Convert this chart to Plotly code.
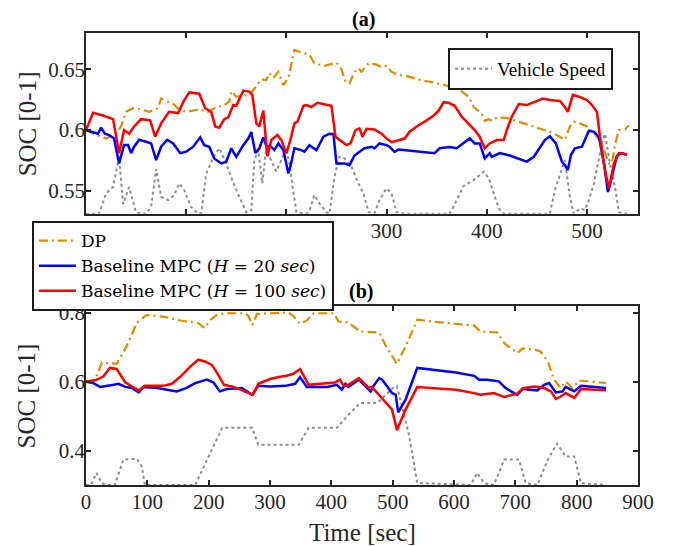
import plotly.graph_objects as go

# ---- panel (a) ----
a_dp_t = [0, 10, 20, 30, 35, 40, 47, 55, 63, 72, 75, 82, 88, 93, 100, 113, 122, 130, 137, 143, 145, 150, 163, 168, 175,
          180, 183, 187, 192, 197, 202, 208, 215, 223, 228, 238, 250, 255, 259, 263, 268, 272, 275, 282, 290, 295, 300,
          305, 310, 322, 335, 348, 363, 373, 382, 387, 395, 398, 402, 405, 410, 420, 437, 453, 463, 472, 478, 483, 487,
          493, 500, 508, 515, 522, 525, 528, 532, 538, 542]
a_dp = [0.600, 0.596, 0.593, 0.597, 0.603, 0.615, 0.618, 0.617, 0.615, 0.618, 0.626, 0.623, 0.621, 0.617, 0.615, 0.617,
        0.615, 0.619, 0.620, 0.6235, 0.632, 0.6275, 0.629, 0.634, 0.642, 0.641, 0.647, 0.643, 0.648, 0.637, 0.643, 0.666,
        0.664, 0.662, 0.655, 0.653, 0.6556, 0.650, 0.640, 0.6385, 0.648, 0.651, 0.648, 0.655, 0.654, 0.652, 0.653, 0.648,
        0.646, 0.644, 0.641, 0.639, 0.636, 0.633, 0.6275, 0.619, 0.6137, 0.6077, 0.609, 0.6077, 0.6104, 0.610, 0.6055,
        0.6014, 0.5986, 0.595, 0.5918, 0.603, 0.6069, 0.6055, 0.603, 0.597, 0.588, 0.5725, 0.5725, 0.588, 0.600, 0.6005,
        0.604]

a_h20_t = [0, 7, 12, 15, 19, 23, 28, 33, 38, 42, 45, 48, 53, 60, 65, 70, 75, 81, 87, 94, 100, 107, 114, 118, 123, 128,
           135, 140, 145, 150, 157, 162, 165, 169, 173, 177, 182, 183, 188, 192, 197, 202, 204, 208, 215, 218, 223, 230,
           237, 243, 247, 250, 258, 263, 268, 273, 278, 285, 288, 293, 300, 303, 308, 312, 322, 332, 348, 353, 363, 370,
           377, 383, 388, 393, 398, 403, 405, 413, 423, 432, 440, 447, 453, 458, 463, 469, 475, 478, 481, 484, 488, 495,
           498, 502, 507, 512, 517, 521, 525, 530, 535, 540]
a_h20 = [0.600, 0.5986, 0.597, 0.602, 0.597, 0.5959, 0.593, 0.5725, 0.5876, 0.5876, 0.581, 0.5863, 0.592, 0.5904, 0.589,
         0.5753, 0.5863, 0.592, 0.589, 0.581, 0.5822, 0.5863, 0.594, 0.5876, 0.5863, 0.5766, 0.5725, 0.5739, 0.585, 0.578,
         0.5876, 0.593, 0.5985, 0.581, 0.585, 0.594, 0.582, 0.5876, 0.5835, 0.589, 0.5835, 0.5643, 0.5698, 0.585, 0.5835,
         0.5822, 0.5876, 0.5835, 0.5945, 0.597, 0.5967, 0.5725, 0.5725, 0.5711, 0.579, 0.5822, 0.585, 0.5863, 0.585,
         0.589, 0.5876, 0.5863, 0.582, 0.584, 0.583, 0.582, 0.581, 0.585, 0.586, 0.585, 0.589, 0.5931, 0.589, 0.589,
         0.5766, 0.581, 0.578, 0.581, 0.579, 0.5766, 0.574, 0.578, 0.586, 0.5918, 0.595, 0.589, 0.574, 0.5711, 0.567,
         0.5794, 0.585, 0.5863, 0.592, 0.5995, 0.5986, 0.5945, 0.5725, 0.549, 0.5615, 0.579, 0.581, 0.5794]

a_h100_t = [0, 7, 17, 23, 27, 33, 38, 43, 48, 55, 64, 69, 75, 83, 92, 97, 103, 113, 119, 125, 129, 133, 138, 142, 147,
            150, 157, 163, 166, 170, 173, 177, 181, 185, 191, 195, 200, 204, 208, 211, 217, 220, 225, 231, 237, 245, 249,
            253, 260, 264, 269, 273, 276, 280, 288, 295, 300, 305, 312, 318, 323, 332, 340, 347, 352, 357, 362, 368, 375,
            382, 388, 393, 398, 403, 410, 417, 420, 425, 432, 440, 456, 463, 473, 478, 481, 486, 492, 500, 505, 510, 513,
            518, 522, 527, 532, 540]
a_h100 = [0.600, 0.6143, 0.612, 0.6105, 0.609, 0.581, 0.600, 0.597, 0.603, 0.609, 0.608, 0.5945, 0.6055, 0.615, 0.614,
          0.623, 0.631, 0.630, 0.618, 0.615, 0.603, 0.602, 0.609, 0.6105, 0.6206, 0.620, 0.6325, 0.6317, 0.629, 0.6055,
          0.603, 0.616, 0.5785, 0.5918, 0.596, 0.5918, 0.5808, 0.5918, 0.6055, 0.6069, 0.620, 0.6206, 0.619, 0.6225,
          0.6214, 0.620, 0.5945, 0.5918, 0.5876, 0.589, 0.600, 0.6014, 0.5945, 0.601, 0.6005, 0.597, 0.593, 0.590, 0.5918,
          0.593, 0.5986, 0.604, 0.608, 0.612, 0.616, 0.623, 0.6225, 0.620, 0.611, 0.6055, 0.600, 0.5945, 0.585, 0.589,
          0.5918, 0.592, 0.600, 0.611, 0.6215, 0.6206, 0.626, 0.6248, 0.624, 0.619, 0.615, 0.629, 0.6275, 0.6248, 0.6206,
          0.615, 0.5945, 0.567, 0.552, 0.5725, 0.581, 0.580]

a_spd_t = [0, 13, 20, 27, 33, 37, 43, 50, 60, 65, 70, 75, 82, 88, 93, 98, 105, 112, 115, 120, 128, 133, 140, 145, 153,
           160, 165, 168, 172, 176, 180, 183, 190, 195, 200, 203, 207, 210, 220, 223, 228, 233, 240, 243, 248, 253, 258,
           265, 272, 277, 282, 288, 293, 300, 305, 310, 318, 363, 368, 377, 387, 397, 402, 407, 412, 417, 463, 468, 478,
           483, 487, 493, 498, 502, 507, 515, 518, 523, 528, 532, 540]
a_spd = [0.531, 0.531, 0.5478, 0.553, 0.578, 0.539, 0.553, 0.532, 0.531, 0.5365, 0.568, 0.545, 0.5423, 0.5464, 0.556,
         0.5505, 0.5365, 0.531, 0.5316, 0.564, 0.579, 0.585, 0.5725, 0.561, 0.545, 0.5323, 0.5337, 0.5752, 0.5835, 0.556,
         0.586, 0.578, 0.566, 0.5753, 0.585, 0.5725, 0.5505, 0.5323, 0.531, 0.5337, 0.5464, 0.5396, 0.5323, 0.531,
         0.5615, 0.578, 0.5766, 0.5698, 0.556, 0.5478, 0.5323, 0.5316, 0.5423, 0.552, 0.5478, 0.5323, 0.531, 0.531,
         0.539, 0.554, 0.5588, 0.5657, 0.5602, 0.5478, 0.5355, 0.531, 0.531, 0.5505, 0.5753, 0.545, 0.531, 0.5355,
         0.5341, 0.5423, 0.556, 0.5888, 0.597, 0.5725, 0.5533, 0.5323, 0.531]

# ---- panel (b) ----
b_dp_t = [0, 15, 26, 50, 66, 83, 99, 126, 154, 183, 193, 203, 213, 230, 260, 265, 271, 279, 300, 330, 338, 349, 360, 371,
          404, 412, 428, 447, 478, 488, 498, 507, 521, 540, 564, 603, 633, 643, 671, 682, 703, 712, 731, 741, 753, 763,
          774, 782, 793, 804, 823, 848]
b_dp = [0.600, 0.606, 0.656, 0.652, 0.702, 0.772, 0.794, 0.789, 0.778, 0.770, 0.756, 0.780, 0.794, 0.799, 0.799, 0.791,
        0.765, 0.797, 0.799, 0.801, 0.791, 0.768, 0.778, 0.799, 0.799, 0.775, 0.772, 0.746, 0.743, 0.707, 0.678, 0.652,
        0.702, 0.780, 0.775, 0.768, 0.763, 0.746, 0.743, 0.712, 0.683, 0.697, 0.694, 0.688, 0.659, 0.606, 0.582, 0.601,
        0.582, 0.603, 0.601, 0.596]

b_h20_t = [0, 12, 23, 34, 45, 53, 64, 75, 86, 94, 116, 148, 164, 178, 197, 208, 218, 230, 254, 271, 281, 300, 325, 341,
           349, 360, 393, 409, 417, 423, 428, 445, 464, 469, 478, 483, 499, 505, 509, 521, 540, 603, 633, 641, 654, 673,
           684, 698, 703, 712, 736, 747, 755, 766, 777, 782, 796, 807, 829, 848]
b_h20 = [0.600, 0.596, 0.585, 0.587, 0.591, 0.594, 0.585, 0.582, 0.569, 0.585, 0.582, 0.572, 0.582, 0.596, 0.606, 0.598,
         0.572, 0.579, 0.582, 0.562, 0.588, 0.586, 0.588, 0.594, 0.6135, 0.5845, 0.5845, 0.591, 0.577, 0.594, 0.585,
         0.606, 0.572, 0.588, 0.6106, 0.606, 0.567, 0.562, 0.511, 0.548, 0.640, 0.627, 0.617, 0.606, 0.606, 0.601, 0.582,
         0.567, 0.562, 0.579, 0.575, 0.591, 0.596, 0.569, 0.572, 0.585, 0.572, 0.588, 0.585, 0.582]

b_h100_t = [0, 15, 28, 39, 50, 64, 75, 86, 96, 126, 140, 154, 170, 183, 194, 205, 214, 225, 241, 257, 272, 281, 300, 314,
            327, 338, 349, 363, 406, 414, 420, 425, 445, 461, 466, 480, 490, 499, 507, 521, 540, 603, 633, 643, 665, 682,
            695, 703, 712, 731, 747, 758, 766, 774, 782, 796, 807, 829, 848]
b_h100 = [0.600, 0.604, 0.615, 0.640, 0.637, 0.598, 0.586, 0.575, 0.588, 0.588, 0.594, 0.615, 0.644, 0.664, 0.659, 0.649,
          0.625, 0.591, 0.585, 0.572, 0.562, 0.594, 0.608, 0.6135, 0.6174, 0.623, 0.637, 0.591, 0.598, 0.606, 0.588,
          0.588, 0.6106, 0.582, 0.585, 0.557, 0.538, 0.519, 0.459, 0.519, 0.5845, 0.577, 0.567, 0.562, 0.567, 0.5555,
          0.562, 0.565, 0.5816, 0.586, 0.5816, 0.572, 0.550, 0.557, 0.567, 0.553, 0.579, 0.577, 0.575]

b_spd_t = [0, 8, 17, 26, 34, 47, 61, 83, 91, 96, 178, 192, 222, 271, 281, 347, 363, 409, 428, 447, 475, 502, 507, 526,
           540, 627, 638, 649, 665, 682, 706, 717, 736, 753, 768, 782, 796, 807, 848]
b_spd = [0.30, 0.30, 0.335, 0.305, 0.30, 0.30, 0.374, 0.376, 0.354, 0.30, 0.30, 0.354, 0.466, 0.466, 0.417, 0.417, 0.466,
         0.466, 0.504, 0.538, 0.538, 0.585, 0.587, 0.451, 0.306, 0.30, 0.335, 0.305, 0.30, 0.374, 0.374, 0.305, 0.30,
         0.374, 0.42, 0.383, 0.383, 0.305, 0.30]

# top panel: labels under the legend box are hidden in the original
a_ticks = [0, 100, 200, 300, 400, 500]
a_ticktext = ["", "", "", "300", "400", "500"]

FONT = "Liberation Serif"
LEGFONT = "DejaVu Serif"
AX = "#262626"
ORANGE = "#E08A00"
DPDASH = "9px,4px,2px,4px"
GRAY = "#8c8c8c"

fig = go.Figure()

# panel (a)
fig.add_trace(go.Scatter(x=a_spd_t, y=a_spd, mode="lines", name="Vehicle Speed", legend="legend2",
                         line=dict(color=GRAY, width=2, dash="dot"), xaxis="x", yaxis="y"))
fig.add_trace(go.Scatter(x=a_dp_t, y=a_dp, mode="lines", name="DP",
                         line=dict(color=ORANGE, width=2.2, dash=DPDASH), xaxis="x", yaxis="y"))
fig.add_trace(go.Scatter(x=a_h20_t, y=a_h20, mode="lines", name="Baseline MPC (<i>H</i> = 20 <i>sec</i>)",
                         line=dict(color="#0000ff", width=2.5), xaxis="x", yaxis="y"))
fig.add_trace(go.Scatter(x=a_h100_t, y=a_h100, mode="lines", name="Baseline MPC (<i>H</i> = 100 <i>sec</i>)",
                         line=dict(color="#ff0000", width=2.5), xaxis="x", yaxis="y"))

# panel (b)
fig.add_trace(go.Scatter(x=b_spd_t, y=b_spd, mode="lines", showlegend=False,
                         line=dict(color=GRAY, width=2, dash="dot"), xaxis="x2", yaxis="y2"))
fig.add_trace(go.Scatter(x=b_dp_t, y=b_dp, mode="lines", showlegend=False,
                         line=dict(color=ORANGE, width=2.2, dash=DPDASH), xaxis="x2", yaxis="y2"))
fig.add_trace(go.Scatter(x=b_h20_t, y=b_h20, mode="lines", showlegend=False,
                         line=dict(color="#0000ff", width=2.5), xaxis="x2", yaxis="y2"))
fig.add_trace(go.Scatter(x=b_h100_t, y=b_h100, mode="lines", showlegend=False,
                         line=dict(color="#ff0000", width=2.5), xaxis="x2", yaxis="y2"))

axis_common = dict(showline=True, mirror="ticks", linecolor=AX, linewidth=1.6, ticks="inside", ticklen=5,
                   tickwidth=1.6, tickcolor=AX, showgrid=False, zeroline=False,
                   tickfont=dict(family=FONT, size=21, color=AX))

# the page body adds an 8px offset, so the figure is 8px smaller than the window
fig.update_layout(
    width=670, height=538,
    margin=dict(l=78, r=40, t=25, b=61, autoexpand=False),
    paper_bgcolor="white", plot_bgcolor="white",
    font=dict(family=FONT, color="black"),
    xaxis=dict(domain=[0, 1], range=[0, 551], tickvals=a_ticks, ticktext=a_ticktext, anchor="y",
               ticklabelstandoff=-3, **axis_common),
    yaxis=dict(domain=[0.6, 1], range=[0.531, 0.68], tickvals=[0.55, 0.6, 0.65], anchor="x",
               ticklabelstandoff=-5, **axis_common),
    xaxis2=dict(domain=[0, 1], range=[0, 900], dtick=100, anchor="y2", ticklabelstandoff=-3, **axis_common),
    yaxis2=dict(domain=[0, 0.396], range=[0.30, 0.82], tickvals=[0.4, 0.6, 0.8], anchor="x2",
                ticklabelstandoff=-5, **axis_common),
    legend=dict(x=-0.098, y=0.584, xanchor="left", yanchor="top", bgcolor="white", bordercolor="#1a1a1a",
                borderwidth=2, font=dict(family=LEGFONT, size=17, color="black"), tracegroupgap=0,
                itemwidth=37),
    legend2=dict(x=0.656, y=0.967, xanchor="left", yanchor="top", bgcolor="white", bordercolor="#1a1a1a",
                 borderwidth=2, font=dict(family=FONT, size=19, color="black"), itemwidth=37),
    annotations=[
        dict(text="<b>(a)</b>", x=0.502, y=1.029, xref="paper", yref="paper", showarrow=False,
             xanchor="center", yanchor="middle", font=dict(family=FONT, size=20, color="black")),
        dict(text="<b>(b)</b>", x=0.498, y=0.427, xref="paper", yref="paper", showarrow=False,
             xanchor="center", yanchor="middle", font=dict(family=FONT, size=20, color="black")),
        dict(text="SOC [0-1]", x=-0.107, y=0.8, xref="paper", yref="paper", showarrow=False, textangle=-90,
             xanchor="center", yanchor="middle", font=dict(family=FONT, size=25, color=AX)),
        dict(text="SOC [0-1]", x=-0.107, y=0.198, xref="paper", yref="paper", showarrow=False, textangle=-90,
             xanchor="center", yanchor="middle", font=dict(family=FONT, size=25, color=AX)),
        dict(text="Time [sec]", x=0.5, y=-0.104, xref="paper", yref="paper", showarrow=False,
             xanchor="center", yanchor="middle", font=dict(family=FONT, size=25, color=AX)),
    ],
)

fig.write_html("out.html")
